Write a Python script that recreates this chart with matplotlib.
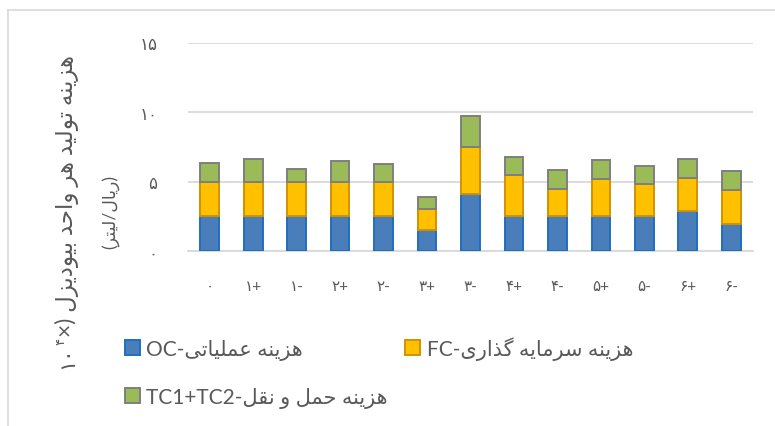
import numpy as np
import matplotlib
matplotlib.use('Agg')
import matplotlib.pyplot as plt

plt.rcParams['font.family'] = ['Lato', 'DejaVu Sans']

# categories and stacked cost components (x10^4 rial/litre)
categories = ['۰', '۱+', '۱-', '۲+', '۲-', '۳+', '۳-', '۴+', '۴-', '۵+', '۵-', '۶+', '۶-']
oc = [2.5, 2.5, 2.5, 2.5, 2.5, 1.55, 4.1, 2.5, 2.5, 2.5, 2.5, 2.85, 1.95]
fc = [2.5, 2.5, 2.5, 2.5, 2.5, 1.5, 3.4, 2.95, 2.0, 2.7, 2.3, 2.45, 2.45]
tc = [1.35, 1.65, 0.9, 1.5, 1.3, 0.85, 2.2, 1.35, 1.35, 1.35, 1.35, 1.35, 1.35]
yticks = [0, 5, 10, 15]
ytick_labels = ['۰', '۵', '۱۰', '۱۵']

# minimal persian shaping (presentation forms), matplotlib has no bidi/shaping
FORMS = {
    'ا': ('\uFE8D', '\uFE8E', None, None),
    'ب': ('\uFE8F', '\uFE90', '\uFE91', '\uFE92'),
    'ت': ('\uFE95', '\uFE96', '\uFE97', '\uFE98'),
    'ح': ('\uFEA1', '\uFEA2', '\uFEA3', '\uFEA4'),
    'د': ('\uFEA9', '\uFEAA', None, None),
    'ذ': ('\uFEAB', '\uFEAC', None, None),
    'ر': ('\uFEAD', '\uFEAE', None, None),
    'ز': ('\uFEAF', '\uFEB0', None, None),
    'س': ('\uFEB1', '\uFEB2', '\uFEB3', '\uFEB4'),
    'ع': ('\uFEC9', '\uFECA', '\uFECB', '\uFECC'),
    'ق': ('\uFED5', '\uFED6', '\uFED7', '\uFED8'),
    'ل': ('\uFEDD', '\uFEDE', '\uFEDF', '\uFEE0'),
    'م': ('\uFEE1', '\uFEE2', '\uFEE3', '\uFEE4'),
    'ن': ('\uFEE5', '\uFEE6', '\uFEE7', '\uFEE8'),
    'ه': ('\uFEE9', '\uFEEA', '\uFEEB', '\uFEEC'),
    'و': ('\uFEED', '\uFEEE', None, None),
    'ی': ('\uFBFC', '\uFBFD', '\uFBFE', '\uFBFF'),
    'گ': ('\uFB92', '\uFB93', '\uFB94', '\uFB95'),
}


def fa(s):
    out = []
    for i, c in enumerate(s):
        if c not in FORMS:
            out.append(c)
            continue
        prev = s[i - 1] if i > 0 else ''
        nxt = s[i + 1] if i + 1 < len(s) else ''
        jp = prev in FORMS and FORMS[prev][2] is not None
        jn = FORMS[c][2] is not None and nxt in FORMS
        iso, fin, ini, med = FORMS[c]
        if jp and jn:
            out.append(med)
        elif jp:
            out.append(fin)
        elif jn:
            out.append(ini)
        else:
            out.append(iso)
    return ''.join(out)[::-1]


lbl_oc = 'OC-' + fa('هزینه عملیاتی')
lbl_fc = 'FC-' + fa('هزینه سرمایه گذاری')
lbl_tc = 'TC1+TC2-' + fa('هزینه حمل و نقل')

grey = '#595959'
W, H = 775, 427
fig = plt.figure(figsize=(W / 100, H / 100), dpi=100)
ax = fig.add_axes([188 / W, (H - 252) / H, (753 - 188) / W, (252 - 44) / H])

x = np.arange(len(categories))
oc = np.array(oc)
fc = np.array(fc)
tc = np.array(tc)
w = 0.43
b_oc = ax.bar(x, oc, w, color='#4a7ebb', edgecolor='#1f6fc0', linewidth=1.4, zorder=3)
b_fc = ax.bar(x, fc, w, bottom=oc, color='#ffc000', edgecolor='#d09200', linewidth=1.4, zorder=3)
b_tc = ax.bar(x, tc, w, bottom=oc + fc, color='#9bbb59', edgecolor='#7f7f7f', linewidth=1.4, zorder=3)

ax.set_xlim(-0.5, len(categories) - 0.5)
ax.set_ylim(0, 15)
ax.set_yticks(yticks)
ax.set_yticklabels(ytick_labels)
ax.set_xticks(x)
ax.set_xticklabels(categories)
ax.yaxis.grid(True, color='#d9d9d9', linewidth=1.3, zorder=0)
ax.set_axisbelow(True)
for s in ['top', 'right', 'left']:
    ax.spines[s].set_visible(False)
ax.spines['bottom'].set_color('#d9d9d9')
ax.spines['bottom'].set_linewidth(1.3)
ax.tick_params(axis='both', length=0, colors=grey)
ax.tick_params(axis='y', pad=22, labelsize=12)
ax.tick_params(axis='x', pad=20, labelsize=11)

# legend
fig.legend([b_oc, b_tc, b_fc], [lbl_oc, lbl_tc, lbl_fc], ncol=2, loc='upper left',
           bbox_to_anchor=(125 / W, 1 - 337 / H), frameon=False, fontsize=15,
           handlelength=0.72, handleheight=0.72, handletextpad=0.3,
           columnspacing=0.85, labelspacing=1.3, borderpad=0, borderaxespad=0,
           labelcolor=grey)

# y axis title (two lines, rotated)
r = fig.canvas.get_renderer()
x1 = 67
t1 = fig.text(x1 / W, (H - 369) / H, '۱۰', rotation=90, ha='center', va='bottom',
              fontsize=15, color=grey)
bb = t1.get_window_extent(r)
t2 = fig.text((x1 - 7) / W, (bb.y1 + 1) / H, '۴', rotation=90, ha='center', va='bottom',
              fontsize=9.5, color=grey)
bb = t2.get_window_extent(r)
fig.text(x1 / W, (bb.y1 + 1) / H, '×) ' + fa('هزینه تولید هر واحد بیودیزل'),
         rotation=90, ha='center', va='bottom', fontsize=16.5, color=grey)
fig.text(110 / W, (H - 212) / H, '(' + fa('لیتر') + '/' + fa('ریال') + ')',
         rotation=90, ha='center', va='center', fontsize=12.5, color=grey)

# chart area border (left and top edges visible)
fig.add_artist(plt.Line2D([8 / W, 8 / W], [0, 1 - 11 / H], color='#d9d9d9', linewidth=1.2))
fig.add_artist(plt.Line2D([8 / W, 1], [1 - 11 / H, 1 - 11 / H], color='#d9d9d9', linewidth=1.2))

fig.savefig('out.png', dpi=100)
